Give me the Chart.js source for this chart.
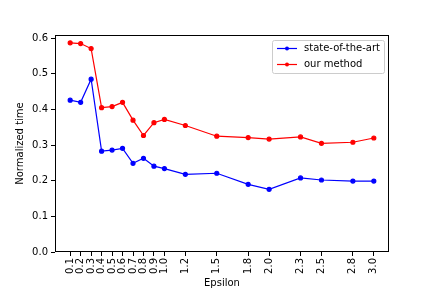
<!DOCTYPE html>
<html>
<head>
<meta charset="utf-8">
<script src="https://cdn.jsdelivr.net/npm/chart.js@4/dist/chart.umd.min.js"></script>
<style>
  html, body { margin: 0; padding: 0; background: #fff; }
</style>
</head>
<body>
<canvas id="myChart" width="432" height="288"></canvas>
<script>
const epsilons = [0.1, 0.2, 0.3, 0.4, 0.5, 0.6, 0.7, 0.8, 0.9, 1.0, 1.2, 1.5, 1.8, 2.0, 2.3, 2.5, 2.8, 3.0];
const stateOfTheArt = [0.426, 0.420, 0.485, 0.283, 0.286, 0.291, 0.249, 0.263, 0.241, 0.234, 0.218, 0.221, 0.190, 0.176, 0.208, 0.202, 0.199, 0.199];
const ourMethod = [0.587, 0.585, 0.571, 0.405, 0.408, 0.420, 0.370, 0.327, 0.363, 0.372, 0.355, 0.325, 0.321, 0.317, 0.323, 0.305, 0.308, 0.320];
const yTicks = [0.0, 0.1, 0.2, 0.3, 0.4, 0.5, 0.6];

const FONT = 'DejaVu Sans';

function toPoints(vals) {
  return epsilons.map((x, i) => ({ x: x, y: vals[i] }));
}

// frame around the plot plus the legend box in the upper right
const framePlugin = {
  id: 'frame',
  afterDraw(chart) {
    const ctx = chart.ctx;
    const a = chart.chartArea;
    ctx.save();
    ctx.strokeStyle = '#000';
    ctx.lineWidth = 1;
    ctx.strokeRect(a.left + 0.5, a.top + 0.5, a.right - a.left - 1, a.bottom - a.top - 1);

    // legend
    const bx = 272, by = 40, bw = 112, bh = 33;
    ctx.fillStyle = 'rgba(255,255,255,0.8)';
    ctx.strokeStyle = '#cccccc';
    ctx.beginPath();
    ctx.roundRect(bx + 0.5, by + 0.5, bw, bh, 2);
    ctx.fill();
    ctx.stroke();
    ctx.font = '10px ' + FONT;
    ctx.textBaseline = 'middle';
    chart.data.datasets.forEach((ds, i) => {
      const y = by + 8.5 + i * 16;
      ctx.strokeStyle = ds.borderColor;
      ctx.lineWidth = 1.2;
      ctx.beginPath();
      ctx.moveTo(bx + 5, y);
      ctx.lineTo(bx + 25, y);
      ctx.stroke();
      ctx.fillStyle = ds.borderColor;
      ctx.beginPath();
      ctx.arc(bx + 15, y, 2, 0, Math.PI * 2);
      ctx.fill();
      ctx.fillStyle = '#000';
      ctx.fillText(ds.label, bx + 32, y);
    });
    ctx.restore();
  }
};

const ctx = document.getElementById('myChart');

new Chart(ctx, {
  type: 'line',
  data: {
    datasets: [{
      label: 'state-of-the-art',
      data: toPoints(stateOfTheArt),
      borderColor: '#0000ff',
      backgroundColor: '#0000ff',
      borderWidth: 1.2,
      pointRadius: 2,
      pointHoverRadius: 2,
      tension: 0
    }, {
      label: 'our method',
      data: toPoints(ourMethod),
      borderColor: '#ff0000',
      backgroundColor: '#ff0000',
      borderWidth: 1.2,
      pointRadius: 2,
      pointHoverRadius: 2,
      tension: 0
    }]
  },
  options: {
    responsive: false,
    animation: false,
    devicePixelRatio: 1,
    layout: { padding: { left: 0, top: 35, right: 43, bottom: 0 } },
    plugins: {
      legend: { display: false },
      tooltip: { enabled: false }
    },
    scales: {
      x: {
        type: 'linear',
        min: -0.045,
        max: 3.145,
        afterBuildTicks: scale => { scale.ticks = epsilons.map(v => ({ value: v })); },
        afterFit: scale => { scale.height = 36; },
        grid: { drawOnChartArea: false, tickLength: 4, color: '#000' },
        border: { display: false },
        ticks: {
          autoSkip: false,
          minRotation: 90,
          maxRotation: 90,
          padding: 2,
          color: '#000',
          font: { family: FONT, size: 10 },
          callback: v => Number(v).toFixed(1)
        },
        title: {
          display: true,
          text: 'Epsilon',
          color: '#000',
          padding: { top: 0, bottom: -1 },
          font: { family: FONT, size: 10 }
        }
      },
      y: {
        min: 0,
        max: 0.609,
        afterBuildTicks: scale => { scale.ticks = yTicks.map(v => ({ value: v })); },
        afterFit: scale => { scale.width = 55; },
        grid: { drawOnChartArea: false, tickLength: 4, color: '#000' },
        border: { display: false },
        ticks: {
          padding: 3,
          color: '#000',
          font: { family: FONT, size: 10 },
          callback: v => Number(v).toFixed(1)
        },
        title: {
          display: true,
          text: 'Normalized time',
          color: '#000',
          padding: { top: 14, bottom: 0 },
          font: { family: FONT, size: 10 }
        }
      }
    }
  },
  plugins: [framePlugin]
});
</script>
</body>
</html>
